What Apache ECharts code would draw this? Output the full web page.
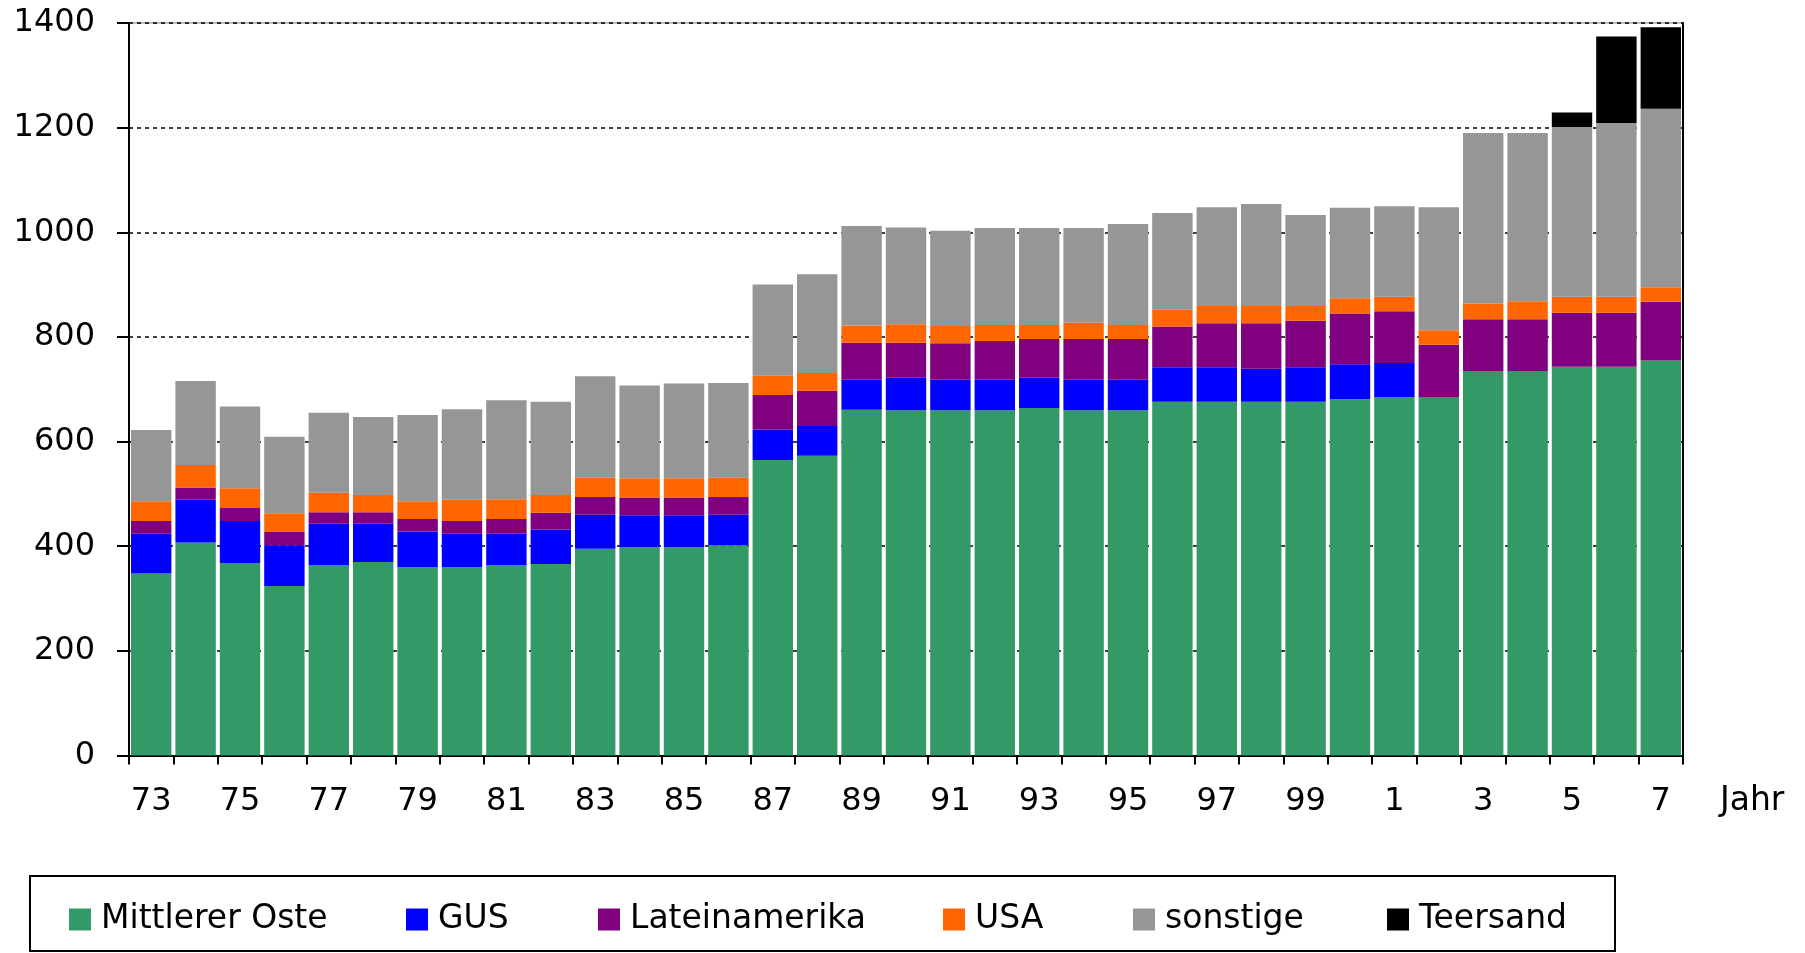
<!DOCTYPE html>
<html lang="de">
<head>
<meta charset="UTF-8">
<title>Förderung nach Regionen</title>
<style>
  html, body { margin: 0; padding: 0; background: #fff; }
  #main { width: 1805px; height: 953px; }
</style>
</head>
<body>
<div id="main"></div>
<script src="https://cdn.jsdelivr.net/npm/echarts@6/dist/echarts.min.js"></script>
<script>
// Jahre 1973 - 2007
var jahre = ['73','74','75','76','77','78','79','80','81','82','83','84','85','86','87','88','89','90',
             '91','92','93','94','95','96','97','98','99','0','1','2','3','4','5','6','7'];

var mittlererOste = [348,407,368,324,364,370,360,360,364,366,395,398,398,402,565,573,661,660,660,660,
                     664,660,660,676,676,676,676,681,685,685,735,735,743,743,755];
var gus          = [76,82,80,78,79,73,68,64,60,66,65,61,61,58,58,57,57,62,58,58,
                    58,58,58,66,66,63,66,67,65,0,0,0,0,0,0];
var lateinamerika = [24,23,25,25,22,22,24,24,28,32,34,34,34,34,66,67,71,67,70,74,
                     74,78,78,78,84,87,89,97,99,100,99,99,103,103,112];
var usa          = [38,43,38,36,37,33,34,41,38,34,37,37,37,37,37,34,33,35,33,31,
                    27,31,27,32,33,33,28,29,28,28,30,34,31,31,28];
var sonstige     = [136,161,156,146,153,149,165,173,189,178,194,177,181,181,174,189,190,185,182,185,
                    185,181,193,185,189,195,174,173,173,235,326,322,324,332,341];
var teersand     = [0,0,0,0,0,0,0,0,0,0,0,0,0,0,0,0,0,0,0,0,
                    0,0,0,0,0,0,0,0,0,0,0,0,28,165,156];

var namen  = ['Mittlerer Oste', 'GUS', 'Lateinamerika', 'USA', 'sonstige', 'Teersand'];
var farben = ['#339966', '#0000ff', '#800080', '#ff6600', '#969696', '#000000'];
var werte  = [mittlererOste, gus, lateinamerika, usa, sonstige, teersand];

var font = 'DejaVu Sans';
var legendLeft = [69, 406, 598, 943, 1133, 1387];

var chart = echarts.init(document.getElementById('main'));

var series = namen.map(function (n, i) {
    return {
        name: n,
        type: 'bar',
        stack: 'gesamt',
        barCategoryGap: '9%',
        itemStyle: { color: farben[i] },
        data: werte[i]
    };
});

var legends = namen.map(function (n, i) {
    return {
        data: [n],
        left: legendLeft[i],
        top: 903,
        padding: 0,
        itemWidth: 22,
        itemHeight: 22,
        icon: 'rect',
        textStyle: { fontFamily: font, fontSize: 33, color: '#000', padding: [0, 0, 0, 5] }
    };
});

var option = {
    backgroundColor: '#fff',
    animation: false,
    textStyle: { fontFamily: font },
    grid: {
        left: 129, right: 122, top: 23, bottom: 197.5,
        show: true, borderColor: '#808080', borderWidth: 1
    },
    legend: legends,
    graphic: [{
        type: 'rect',
        shape: { x: 30, y: 876, width: 1585, height: 75 },
        style: { fill: 'none', stroke: '#000', lineWidth: 2 },
        z: -1
    }],
    xAxis: {
        type: 'category',
        data: jahre,
        name: 'Jahr',
        nameLocation: 'end',
        nameGap: 37,
        nameTextStyle: { fontFamily: font, fontSize: 33, color: '#000', verticalAlign: 'top', padding: [29, 0, 0, 0] },
        axisLine: { lineStyle: { color: '#000', width: 2 } },
        axisTick: { show: true, interval: 0, length: 9, lineStyle: { color: '#000', width: 2 } },
        axisLabel: { interval: 1, margin: 30, fontFamily: font, fontSize: 32, color: '#000' },
        splitLine: { show: false }
    },
    yAxis: [{
        type: 'value',
        min: 0, max: 1400, interval: 200,
        axisLine: { show: true, lineStyle: { color: '#000', width: 2 } },
        axisTick: { show: true, length: 12, lineStyle: { color: '#000', width: 2 } },
        axisLabel: {
            margin: 34, fontFamily: font, fontSize: 32, color: '#000',
            formatter: function (v) { return String(v); }
        },
        splitLine: { show: true, lineStyle: { color: '#000', width: 1.5, type: [4, 4] } }
    }, {
        type: 'value',
        position: 'right',
        min: 0, max: 1400, interval: 200,
        axisLine: { show: true, lineStyle: { color: '#000', width: 2 } },
        axisTick: { show: false },
        axisLabel: { show: false },
        splitLine: { show: false }
    }],
    series: series
};

chart.setOption(option);
</script>
</body>
</html>
